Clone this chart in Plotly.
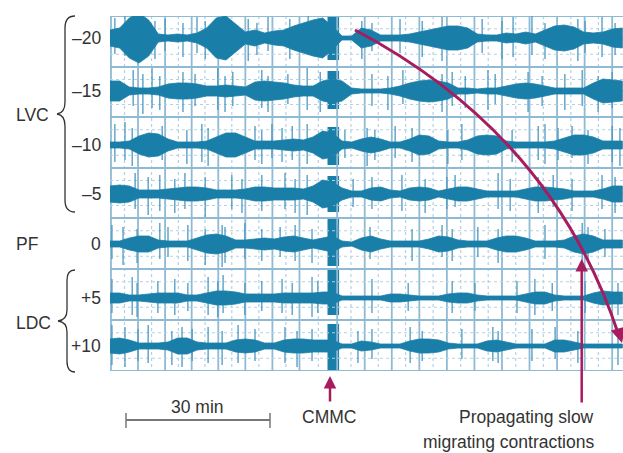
import plotly.graph_objects as go

# ---------------- data ----------------
# time axis in minutes (0 = left edge of the record); 30 min scale bar
TIME_MIN = [0, 2, 4, 6, 8, 10, 12, 14, 16, 18, 20, 22, 24, 26, 28, 30, 32, 34,
            36, 38, 40, 42, 44, 46, 48, 50, 52, 54, 56, 58, 60, 62, 64, 66, 68,
            70, 72, 74, 76, 78, 80, 82, 84, 86, 88, 90, 92, 94, 96, 98, 100, 102,
            104, 106]

CHANNEL_LABELS = ["–20", "–15", "–10", "–5", "0", "+5", "+10"]
# baseline of each channel, vertical chart units (0 = top of record)
BASELINES = [22, 75, 129, 178, 228, 282, 330]

# envelope half-amplitude of the myoelectric activity (chart units)
env_m20 = [8, 10, 20, 25, 18, 4, 3, 4, 3, 5, 10, 20, 22, 14, 6, 8, 5, 7, 8, 12,
           15, 18, 20, 12, 2, 2, 10, 8, 3, 3, 3, 4, 6, 8, 10, 12, 12, 10, 4, 3,
           3, 5, 4, 6, 4, 8, 12, 13, 11, 6, 5, 6, 9, 10]
env_m15 = [10, 10, 4, 3, 3, 4, 7, 8, 8, 7, 5, 5, 6, 5, 4, 9, 10, 9, 8, 6,
           5, 5, 10, 12, 10, 3, 2, 2, 2, 3, 5, 8, 10, 11, 10, 8, 3, 3, 2, 3,
           3, 5, 7, 8, 7, 5, 3, 3, 3, 3, 8, 12, 11, 10]
env_m10 = [3, 3, 4, 9, 12, 11, 6, 3, 3, 3, 4, 8, 12, 12, 8, 4, 4, 4, 5, 6,
           5, 8, 14, 12, 4, 3, 6, 8, 6, 3, 3, 6, 10, 9, 4, 3, 3, 5, 9, 10,
           9, 4, 3, 3, 3, 3, 4, 7, 10, 10, 8, 4, 4, 4]
env_m5 = [8, 9, 8, 4, 4, 4, 5, 6, 7, 7, 6, 4, 4, 4, 5, 7, 7, 6, 6, 6,
          5, 8, 14, 12, 6, 3, 3, 6, 7, 4, 3, 6, 7, 6, 3, 5, 7, 7, 5, 3,
          3, 3, 3, 5, 7, 7, 6, 5, 3, 3, 3, 5, 8, 8]
env_0 = [3, 3, 6, 8, 8, 4, 3, 3, 3, 6, 9, 10, 8, 4, 4, 5, 6, 5, 7, 8,
         6, 4, 6, 8, 3, 2, 6, 8, 5, 3, 3, 3, 3, 5, 8, 7, 4, 3, 3, 3,
         6, 8, 8, 6, 3, 3, 3, 4, 8, 10, 8, 4, 4, 4]
env_p5 = [5, 5, 3, 3, 4, 5, 5, 5, 3, 3, 5, 7, 7, 6, 4, 4, 4, 4, 5, 5,
          5, 5, 6, 6, 2, 2, 2, 2, 2, 4, 4, 3, 2, 2, 2, 4, 5, 5, 3, 2,
          2, 2, 2, 4, 6, 6, 3, 2, 2, 2, 5, 7, 6, 6]
env_p10 = [7, 8, 6, 3, 3, 3, 4, 8, 8, 4, 3, 3, 3, 6, 7, 6, 3, 3, 6, 7,
           7, 6, 6, 6, 2, 2, 5, 4, 2, 2, 2, 5, 7, 7, 6, 3, 2, 2, 2, 5,
           6, 4, 2, 2, 2, 2, 6, 6, 4, 2, 2, 2, 2, 2]

# isolated spikes: (time min, extent up, extent down)
spikes_m20 = [(1.0, 20, 16), (3.1, 22, 18), (9.3, 17, 21), (11.4, 19, 13), (15.1, 15, 19),
              (18.0, 21, 15), (19.7, 17, 21), (28.6, 19, 23), (30.4, 15, 17), (32.7, 21, 13),
              (37.2, 19, 21), (41.0, 22, 17), (52.1, 17, 21), (54.2, 15, 13), (60.0, 19, 15),
              (64.6, 17, 19), (68.7, 21, 23), (77.0, 19, 15), (81.1, 17, 21), (83.4, 21, 19),
              (87.3, 22, 17), (90.0, 15, 21), (96.8, 19, 23), (98.3, 17, 15), (101.8, 21, 19),
              (104.5, 15, 17)]
spikes_m15 = [(4.8, 21, 15), (6.8, 17, 23), (8.7, 23, 17), (10.3, 15, 19), (15.1, 19, 21),
              (17.6, 17, 15), (22.3, 23, 19), (23.8, 15, 21), (25.4, 19, 15), (31.4, 21, 17),
              (32.7, 15, 21), (36.8, 17, 13), (40.8, 23, 19), (43.5, 19, 21), (54.2, 17, 15),
              (57.5, 15, 19), (60.6, 21, 13), (68.7, 17, 21), (70.8, 19, 15), (73.5, 15, 17),
              (78.2, 21, 19), (79.7, 17, 13), (86.5, 19, 21), (89.4, 15, 15), (94.1, 17, 19),
              (97.7, 21, 15), (101.0, 15, 21), (103.9, 19, 17)]
spikes_m10 = [(1.0, 21, 17), (3.1, 23, 15), (4.6, 17, 21), (10.8, 19, 15), (15.9, 15, 19),
              (19.0, 21, 17), (20.3, 17, 21), (30.0, 19, 15), (31.4, 15, 19), (33.5, 21, 13),
              (35.6, 17, 17), (37.7, 19, 15), (40.8, 21, 19), (48.6, 15, 13), (53.2, 17, 21),
              (54.8, 15, 15), (59.0, 19, 13), (62.5, 17, 17), (69.9, 15, 19), (72.8, 21, 15),
              (83.2, 15, 17), (88.6, 19, 15), (90.0, 21, 19), (92.7, 17, 15), (95.6, 19, 13),
              (98.9, 15, 19), (103.9, 19, 17), (105.5, 17, 21)]
spikes_m5 = [(5.2, 21, 15), (7.9, 17, 21), (10.3, 19, 17), (13.4, 15, 19), (15.5, 21, 15),
             (19.7, 17, 23), (25.2, 19, 15), (27.3, 15, 19), (31.4, 19, 17), (36.2, 21, 15),
             (38.3, 15, 19), (40.8, 19, 21), (50.3, 15, 13), (54.2, 17, 15), (60.4, 19, 17),
             (65.2, 15, 19), (69.7, 17, 15), (71.4, 19, 13), (80.3, 21, 15), (82.8, 15, 17),
             (88.6, 17, 19), (91.7, 19, 13), (95.6, 15, 17), (101.8, 19, 15), (104.5, 17, 19)]
spikes_0 = [(0.4, 19, 15), (2.7, 17, 21), (5.6, 15, 19), (10.3, 21, 15), (12.0, 17, 13),
            (16.1, 19, 17), (19.7, 15, 21), (23.2, 19, 23), (23.8, 17, 19), (27.9, 21, 15),
            (31.4, 15, 17), (35.2, 17, 13), (38.3, 19, 17), (41.8, 15, 19), (47.2, 19, 15),
            (53.8, 17, 15), (62.5, 15, 17), (68.7, 19, 13), (70.8, 15, 17), (76.1, 17, 13),
            (80.3, 15, 19), (90.0, 19, 15), (97.7, 21, 17), (98.9, 17, 15), (102.4, 15, 13)]
spikes_p5 = [(0.4, 19, 15), (4.6, 21, 17), (5.6, 15, 19), (9.9, 17, 15), (13.4, 19, 17),
             (16.1, 15, 13), (20.3, 21, 17), (22.3, 17, 19), (23.4, 23, 15), (27.9, 15, 17),
             (31.4, 17, 13), (35.6, 19, 15), (37.7, 15, 17), (41.8, 21, 19), (43.0, 17, 15),
             (54.2, 19, 15), (61.7, 15, 13), (70.8, 17, 15), (75.5, 15, 13), (84.2, 17, 15),
             (87.9, 19, 17), (91.5, 15, 13), (98.3, 17, 15), (105.1, 15, 17)]
spikes_p10 = [(0.4, 21, 19), (3.1, 19, 21), (5.8, 17, 15), (7.9, 21, 17), (12.8, 15, 19),
              (14.9, 19, 21), (17.0, 17, 15), (20.3, 19, 17), (23.2, 15, 19), (26.5, 21, 17),
              (30.0, 17, 15), (36.2, 19, 17), (38.7, 15, 21), (41.8, 17, 15), (51.3, 15, 17),
              (54.2, 17, 13), (62.1, 19, 17), (64.6, 15, 15), (72.8, 17, 13), (79.2, 19, 15),
              (80.3, 15, 17), (87.3, 17, 15), (92.1, 19, 13), (96.8, 15, 17), (105.1, 17, 19)]

# complex migrating motor complex (CMMC) burst
CMMC_TIME = 46.2
CMMC_WIDTH = 2.4
cmmc_up = [22, 20, 18, 18, 25, 28, 22]
cmmc_dn = [22, 18, 20, 18, 22, 17, 24]

# chart-paper grid (minutes / chart units)
GRID_MAJOR_MIN = [0.2, 5.8, 11.4, 16.9, 22.4, 28.0, 33.6, 39.2, 47.0, 52.7, 58.3,
                  64.0, 69.7, 75.4, 81.1, 86.8, 92.5, 98.2, 103.9]
BAND_EDGES = [0, 51, 101, 152, 202, 253, 304, 355]

# ---------------- figure ----------------
TRACE_COLOR = "#1a7fa8"
SPIKE_COLOR = "#4a98c2"
GRID_COLOR = "#8fbad4"
DOT_COLOR = "#b3d1e4"
MAGENTA = "#a81c5e"
TEXT_COLOR = "#333333"
FONT = "Liberation Sans, Arial, sans-serif"

X_MAX = 513 / 4.8333
Y_MAX = 355

envelopes = [env_m20, env_m15, env_m10, env_m5, env_0, env_p5, env_p10]
spike_sets = [spikes_m20, spikes_m15, spikes_m10, spikes_m5, spikes_0, spikes_p5, spikes_p10]

fig = go.Figure()

# grid: major verticals
gx, gy = [], []
for g in GRID_MAJOR_MIN:
    gx += [g, g, None]
    gy += [0, Y_MAX, None]
fig.add_trace(go.Scatter(x=gx, y=gy, mode="lines", line=dict(color=GRID_COLOR, width=1.8),
                         hoverinfo="skip", showlegend=False))
# minor dotted verticals (midway between majors)
dx, dy = [], []
for a, b in zip(GRID_MAJOR_MIN[:-1], GRID_MAJOR_MIN[1:]):
    m = (a + b) / 2
    dx += [m, m, None]
    dy += [0, Y_MAX, None]
# minor dotted horizontals (quarter band)
for a, b in zip(BAND_EDGES[:-1], BAND_EDGES[1:]):
    for f in (0.25, 0.75):
        yv = a + (b - a) * f
        dx += [0, X_MAX, None]
        dy += [yv, yv, None]
fig.add_trace(go.Scatter(x=dx, y=dy, mode="lines", line=dict(color=DOT_COLOR, width=1.2, dash="dot"),
                         hoverinfo="skip", showlegend=False))
# band separators
hx, hy = [], []
for e in BAND_EDGES:
    hx += [0, X_MAX, None]
    hy += [e, e, None]
fig.add_trace(go.Scatter(x=hx, y=hy, mode="lines", line=dict(color=GRID_COLOR, width=2),
                         hoverinfo="skip", showlegend=False))

# spikes (behind the bursts)
for base, sp in zip(BASELINES, spike_sets):
    sx, sy = [], []
    for t, up, dn in sp:
        sx += [t, t, None]
        sy += [base - up, base + dn, None]
    fig.add_trace(go.Scatter(x=sx, y=sy, mode="lines", line=dict(color=SPIKE_COLOR, width=1.5),
                             opacity=0.85, hoverinfo="skip", showlegend=False))

# activity envelopes
for base, env in zip(BASELINES, envelopes):
    xs = TIME_MIN + TIME_MIN[::-1]
    ys = [base - a for a in env] + [base + a for a in env[::-1]]
    fig.add_trace(go.Scatter(x=xs, y=ys, mode="lines", fill="toself", fillcolor=TRACE_COLOR,
                             line=dict(color=TRACE_COLOR, width=0.8), hoverinfo="skip",
                             showlegend=False))
    # resting trace line
    fig.add_trace(go.Scatter(x=[TIME_MIN[0], TIME_MIN[-1]], y=[base, base], mode="lines",
                             line=dict(color=TRACE_COLOR, width=2.2), hoverinfo="skip",
                             showlegend=False))

# CMMC burst
fig.add_trace(go.Bar(x=[CMMC_TIME] * len(BASELINES),
                     y=[u + d for u, d in zip(cmmc_up, cmmc_dn)],
                     base=[b - u for b, u in zip(BASELINES, cmmc_up)],
                     width=CMMC_WIDTH, marker=dict(color=TRACE_COLOR, line=dict(width=0)),
                     hoverinfo="skip", showlegend=False))


# ---------------- annotations in pixel-derived paper coordinates ----------------
def xp(px):
    return (px - 110) / 513


def yp(py):
    return (371 - py) / 355


def path(cmds):
    out = []
    for c in cmds:
        if isinstance(c, str):
            out.append(c)
        else:
            out.append(f"{xp(c[0]):.5f},{yp(c[1]):.5f}")
    return " ".join(out)


shapes = []
# braces
lvc = path(["M", (75, 16), "Q", (65, 16), (65, 28), "L", (65, 102), "Q", (65, 113), (57, 114),
            "Q", (65, 115), (65, 126), "L", (65, 200), "Q", (65, 212), (75, 212)])
ldc = path(["M", (75, 270), "Q", (67, 270), (67, 280), "L", (67, 310), "Q", (67, 320), (58, 321),
            "Q", (67, 322), (67, 332), "L", (67, 361), "Q", (67, 372), (75, 372)])
for p in (lvc, ldc):
    shapes.append(dict(type="path", path=p, xref="paper", yref="paper",
                       line=dict(color=TEXT_COLOR, width=1.3)))
# propagating curve
curve = path(["M", (355, 30), "Q", (552, 134), (618, 333)])
shapes.append(dict(type="path", path=curve, xref="paper", yref="paper",
                   line=dict(color=MAGENTA, width=3)))
# scale bar
shapes.append(dict(type="line", xref="paper", yref="paper", x0=xp(126), x1=xp(270),
                   y0=yp(420), y1=yp(420), line=dict(color="#777777", width=2)))
for px in (126, 270):
    shapes.append(dict(type="line", xref="paper", yref="paper", x0=xp(px), x1=xp(px),
                       y0=yp(413), y1=yp(428), line=dict(color="#777777", width=1.5)))

ann = []
fnt = dict(family=FONT, size=17.5, color=TEXT_COLOR)
for lab, base in zip(CHANNEL_LABELS, BASELINES):
    ann.append(dict(text=lab, x=xp(103), y=yp(base + 16), xref="paper", yref="paper",
                    xanchor="right", yanchor="middle", showarrow=False, font=fnt))
for lab, px, py in (("LVC", 14, 115), ("PF", 14, 244), ("LDC", 14, 323)):
    ann.append(dict(text=lab, x=xp(px), y=yp(py), xref="paper", yref="paper",
                    xanchor="left", yanchor="middle", showarrow=False, font=fnt))
ann.append(dict(text="30 min", x=xp(197), y=yp(407), xref="paper", yref="paper",
                xanchor="center", yanchor="middle", showarrow=False, font=fnt))
ann.append(dict(text="CMMC", x=xp(329), y=yp(417), xref="paper", yref="paper",
                xanchor="center", yanchor="middle", showarrow=False, font=fnt))
ann.append(dict(text="Propagating slow", x=xp(596), y=yp(417), xref="paper", yref="paper",
                xanchor="right", yanchor="middle", showarrow=False, font=fnt))
ann.append(dict(text="migrating contractions", x=xp(596), y=yp(442), xref="paper", yref="paper",
                xanchor="right", yanchor="middle", showarrow=False, font=fnt))
# arrows
for tipx, tipy, ax, ay, w in ((330, 376, 0, 27, 2.5), (581.7, 259, 0, 145, 2.5), (622, 343, -3, -11, 3)):
    ann.append(dict(text="", x=xp(tipx), y=yp(tipy), xref="paper", yref="paper",
                    ax=ax, ay=ay, axref="pixel", ayref="pixel", showarrow=True,
                    arrowhead=2, arrowsize=1, arrowwidth=w, arrowcolor=MAGENTA, standoff=0))

fig.update_layout(
    width=623, height=453,
    margin=dict(l=110, r=0, t=16, b=82),
    paper_bgcolor="white", plot_bgcolor="white",
    barmode="overlay",
    xaxis=dict(range=[0, X_MAX], visible=False, fixedrange=True),
    yaxis=dict(range=[Y_MAX, 0], visible=False, fixedrange=True),
    shapes=shapes, annotations=ann, showlegend=False,
)

fig.write_html("out.html")
